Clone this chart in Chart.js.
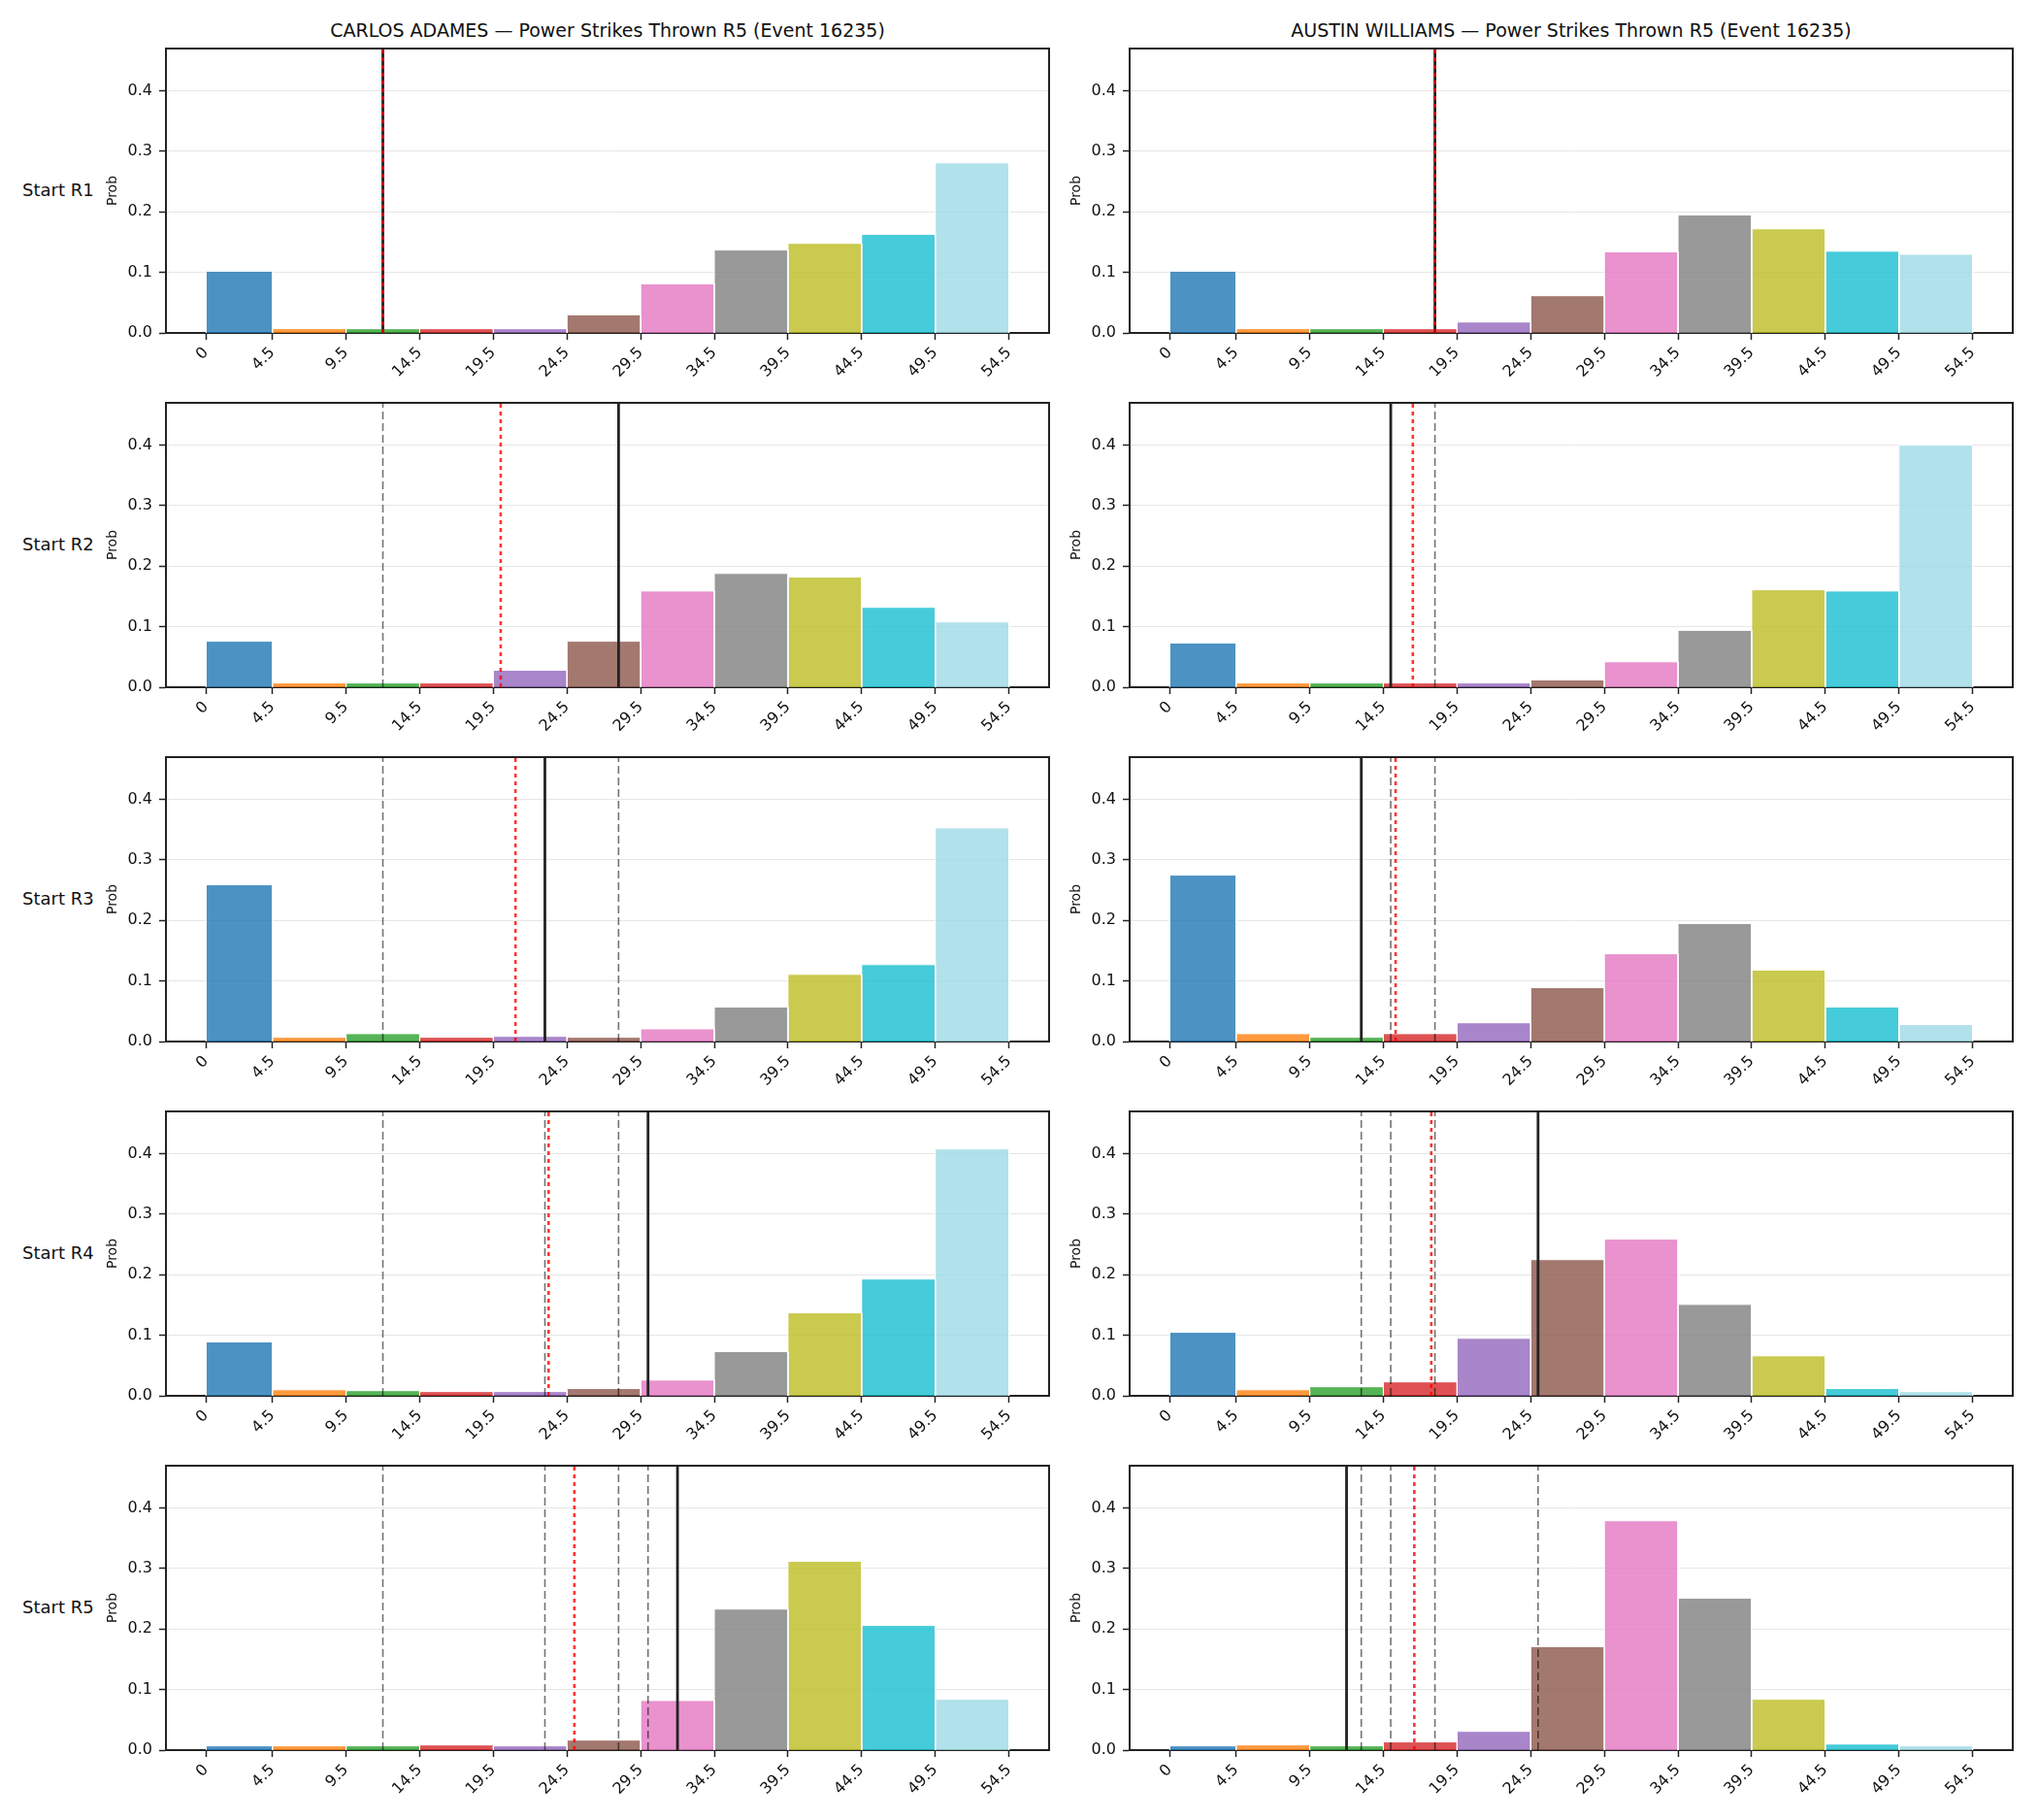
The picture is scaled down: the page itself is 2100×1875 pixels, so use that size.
<!DOCTYPE html>
<html>
<head>
<meta charset="utf-8">
<script src="https://cdn.jsdelivr.net/npm/chart.js@4.4.1/dist/chart.umd.min.js"></script>
<style>
  html, body { margin: 0; padding: 0; background: #fff; }
  #page { position: relative; width: 2100px; height: 1875px; font-family: "DejaVu Sans", sans-serif; color: #111; }
  .title { position: absolute; font-size: 19px; line-height: 19px; white-space: nowrap; transform: translateX(-50%); }
  .rowlab { position: absolute; left: 23px; font-size: 18px; line-height: 18px; white-space: nowrap; }
  canvas { position: absolute; }
</style>
</head>
<body>
<div id="page"></div>
<script>
// bin edges (also the x tick labels)
const binEdges = [0, 4.5, 9.5, 14.5, 19.5, 24.5, 29.5, 34.5, 39.5, 44.5, 49.5, 54.5];
const binColors = ['#1f77b4', '#ff7f0e', '#2ca02c', '#d62728', '#9467bd', '#8c564b',
                   '#e377c2', '#7f7f7f', '#bcbd22', '#17becf', '#9edae5'];
const yTicks = [0, 0.1, 0.2, 0.3, 0.4];
const yMax = 0.47;

const fighters = ['CARLOS ADAMES', 'AUSTIN WILLIAMS'];
const rowLabels = ['Start R1', 'Start R2', 'Start R3', 'Start R4', 'Start R5'];

// probabilities per bin, one array per starting round
const adamesR1 = [0.102, 0.007, 0.007, 0.007, 0.007, 0.030, 0.081, 0.137, 0.148, 0.163, 0.281];
const adamesR2 = [0.076, 0.007, 0.007, 0.007, 0.028, 0.076, 0.159, 0.188, 0.182, 0.132, 0.108];
const adamesR3 = [0.259, 0.007, 0.013, 0.007, 0.0085, 0.007, 0.021, 0.057, 0.111, 0.127, 0.353];
const adamesR4 = [0.089, 0.010, 0.0085, 0.007, 0.007, 0.012, 0.026, 0.073, 0.137, 0.193, 0.408];
const adamesR5 = [0.007, 0.007, 0.007, 0.0085, 0.007, 0.0165, 0.082, 0.233, 0.312, 0.206, 0.084];

const williamsR1 = [0.102, 0.007, 0.007, 0.007, 0.018, 0.0615, 0.134, 0.195, 0.172, 0.135, 0.130];
const williamsR2 = [0.073, 0.007, 0.007, 0.007, 0.007, 0.012, 0.042, 0.094, 0.161, 0.159, 0.400];
const williamsR3 = [0.275, 0.013, 0.007, 0.013, 0.031, 0.089, 0.145, 0.195, 0.118, 0.057, 0.028];
const williamsR4 = [0.105, 0.010, 0.015, 0.023, 0.095, 0.225, 0.259, 0.151, 0.066, 0.012, 0.007];
const williamsR5 = [0.007, 0.0085, 0.007, 0.0135, 0.031, 0.171, 0.379, 0.251, 0.084, 0.010, 0.007];

// vertical markers: actual (solid), running mean (red dotted); earlier actuals shown dashed
const adamesActual = [12, 28, 23, 30, 32];
const adamesMean = [12, 20, 21, 23.25, 25];
const williamsActual = [18, 15, 13, 25, 12];
const williamsMean = [18, 16.5, 15.33, 17.75, 16.6];

const probs = [
  [adamesR1, adamesR2, adamesR3, adamesR4, adamesR5],
  [williamsR1, williamsR2, williamsR3, williamsR4, williamsR5]
];
const actuals = [adamesActual, williamsActual];
const means = [adamesMean, williamsMean];

const page = document.getElementById('page');
const areaLeft = [171, 1164];
const areaW = 910;
const areaH = 293;
const padL = 75, padT = 4, padR = 4, padB = 65;

function rgba(hex, a) {
  const n = parseInt(hex.slice(1), 16);
  return `rgba(${(n >> 16) & 255},${(n >> 8) & 255},${n & 255},${a})`;
}

function vline(x, color, width, dash, order) {
  return {
    data: [{x: x, y: 0}, {x: x, y: yMax}],
    borderColor: color, borderWidth: width, borderDash: dash,
    pointRadius: 0, fill: false, order: order
  };
}

// keep the plot area where it is: no automatic label padding
function noPad(s) {
  s.paddingTop = 0; s.paddingBottom = 0; s.paddingLeft = 0; s.paddingRight = 0;
}

fighters.forEach((name, c) => {
  const t = document.createElement('div');
  t.className = 'title';
  t.textContent = name + ' \u2014 Power Strikes Thrown R5 (Event 16235)';
  t.style.left = (areaLeft[c] + areaW / 2) + 'px';
  t.style.top = '22px';
  page.appendChild(t);

  rowLabels.forEach((lab, r) => {
    const top = 50 + r * 365;

    if (c === 0) {
      const l = document.createElement('div');
      l.className = 'rowlab';
      l.textContent = lab;
      l.style.top = (top + 137) + 'px';
      page.appendChild(l);
    }

    const cv = document.createElement('canvas');
    cv.width = areaW + padL + padR;
    cv.height = areaH + padT + padB;
    cv.style.left = (areaLeft[c] - padL) + 'px';
    cv.style.top = (top - padT) + 'px';
    page.appendChild(cv);

    const datasets = [];
    probs[c][r].forEach((p, i) => {
      const x0 = binEdges[i], x1 = binEdges[i + 1];
      datasets.push({
        data: [{x: x0, y: 0}, {x: x0, y: p}, {x: x1, y: p}, {x: x1, y: 0}],
        fill: 'origin',
        backgroundColor: rgba(binColors[i], 0.8),
        borderColor: '#ffffff', borderWidth: 1,
        pointRadius: 0, order: 3
      });
    });
    for (let j = 0; j < r; j++) {
      datasets.push(vline(actuals[c][j], 'rgba(0,0,0,0.55)', 1.6, [8, 4], 2));
    }
    datasets.push(vline(actuals[c][r], '#222222', 2.8, [], 1));
    datasets.push(vline(means[c][r], 'rgba(255,0,0,0.8)', 2.6, [4, 4], 0));

    new Chart(cv, {
      type: 'line',
      data: { datasets: datasets },
      options: {
        responsive: false,
        animation: false,
        devicePixelRatio: 1,
        layout: { padding: 0, autoPadding: false },
        plugins: { legend: { display: false }, tooltip: { enabled: false } },
        elements: { line: { tension: 0 } },
        scales: {
          x: {
            type: 'linear', position: 'bottom',
            min: -2.725, max: 57.225,
            afterBuildTicks: s => { s.ticks = binEdges.map(v => ({value: v})); },
            afterFit: s => { s.height = padB; noPad(s); },
            grid: { drawOnChartArea: false, drawTicks: true, tickLength: 7, tickColor: '#222', tickWidth: 1.5 },
            border: { display: true, color: '#222', width: 2 },
            ticks: {
              autoSkip: false, maxRotation: 45, minRotation: 45, padding: 4,
              color: '#111', font: { family: 'DejaVu Sans', size: 16 },
              callback: v => String(v)
            }
          },
          y: {
            type: 'linear', position: 'left',
            min: 0, max: yMax,
            afterBuildTicks: s => { s.ticks = yTicks.map(v => ({value: v})); },
            afterFit: s => { s.width = padL; noPad(s); },
            grid: { color: '#e6e6e6', lineWidth: 1, drawTicks: true, tickLength: 7, tickColor: '#222', tickWidth: 1.5 },
            border: { display: true, color: '#222', width: 2 },
            ticks: {
              padding: 7, color: '#111', font: { family: 'DejaVu Sans', size: 16 },
              callback: v => v.toFixed(1)
            },
            title: {
              display: true, text: 'Prob', color: '#111',
              font: { family: 'DejaVu Sans', size: 14 },
              padding: { top: 12, bottom: 0 }
            }
          },
          x2: {
            type: 'linear', position: 'top', display: true,
            afterFit: s => { s.height = padT; noPad(s); },
            grid: { display: false, drawTicks: false },
            border: { display: true, color: '#222', width: 2 },
            ticks: { display: false }
          },
          y2: {
            type: 'linear', position: 'right', display: true,
            afterFit: s => { s.width = padR; noPad(s); },
            grid: { display: false, drawTicks: false },
            border: { display: true, color: '#222', width: 2 },
            ticks: { display: false }
          }
        }
      }
    });
  });
});
</script>
</body>
</html>
